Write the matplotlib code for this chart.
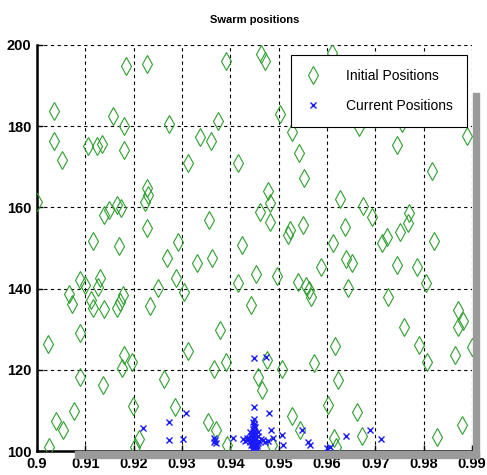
import matplotlib
matplotlib.use("Agg")
import matplotlib.pyplot as plt
from matplotlib.patches import Rectangle

# initial particle positions (green diamonds)
init_x = [0.9184, 0.9227, 0.9035, 0.9158, 0.9181, 0.9274, 0.9035, 0.9051, 0.9106, 0.9124,
          0.9134, 0.9180, 0.9227, 0.9230, 0.9224, 0.9000, 0.9139, 0.9148, 0.9166, 0.9173,
          0.9228, 0.9115, 0.9170, 0.9292, 0.9391, 0.9464, 0.9471, 0.9375, 0.9503, 0.9337,
          0.9360, 0.9312, 0.9415, 0.9527, 0.9542, 0.9553, 0.9479, 0.9482, 0.9462, 0.9482,
          0.9356, 0.9551, 0.9524, 0.9520, 0.9424, 0.9610, 0.9667, 0.9755, 0.9889, 0.9745,
          0.9817, 0.9626, 0.9675, 0.9693, 0.9638, 0.9769, 0.9767, 0.9751, 0.9724, 0.9714,
          0.9612, 0.9822, 0.9879, 0.9700, 0.9268, 0.9288, 0.9089, 0.9130, 0.9127, 0.9067,
          0.9072, 0.9099, 0.9111, 0.9115, 0.9139, 0.9166, 0.9172, 0.9177, 0.9251, 0.9234,
          0.9089, 0.9023, 0.9180, 0.9175, 0.9196, 0.9088, 0.9137, 0.9263, 0.9199, 0.9286,
          0.9077, 0.9039, 0.9053, 0.9025, 0.9203, 0.9212, 0.9331, 0.9363, 0.9305, 0.9415,
          0.9453, 0.9496, 0.9443, 0.9540, 0.9556, 0.9562, 0.9567, 0.9588, 0.9379, 0.9313,
          0.9391, 0.9367, 0.9476, 0.9508, 0.9574, 0.9458, 0.9466, 0.9353, 0.9370, 0.9393,
          0.9527, 0.9544, 0.9486, 0.9640, 0.9651, 0.9745, 0.9786, 0.9644, 0.9727, 0.9805,
          0.9872, 0.9882, 0.9872, 0.9760, 0.9617, 0.9791, 0.9900, 0.9865, 0.9807, 0.9622,
          0.9603, 0.9662, 0.9879, 0.9672, 0.9827, 0.9615, 0.9619]
init_y = [194.8, 195.3, 183.7, 182.5, 180.0, 180.5, 176.4, 171.7, 175.1, 175.1,
          175.6, 174.1, 164.8, 163.1, 161.2, 161.3, 158.1, 159.4, 160.6, 159.8,
          154.9, 151.6, 150.5, 151.5, 196.1, 197.8, 196.1, 181.3, 183.0, 177.3,
          176.4, 170.9, 170.9, 178.5, 173.5, 167.2, 163.9, 161.0, 158.9, 156.5,
          156.9, 155.7, 154.4, 153.2, 150.7, 198.0, 179.7, 180.7, 177.6, 175.4,
          169.0, 162.0, 160.3, 157.7, 155.2, 158.5, 156.1, 154.0, 152.8, 151.2,
          151.3, 151.6, 182.0, 181.8, 147.5, 142.5, 142.1, 142.5, 140.5, 138.6,
          136.1, 140.9, 137.2, 135.1, 135.0, 135.1, 136.8, 138.4, 140.1, 135.8,
          129.0, 126.4, 123.6, 120.5, 121.8, 118.3, 116.3, 117.7, 111.1, 110.8,
          109.9, 107.4, 105.2, 101.1, 101.1, 103.0, 146.2, 147.5, 139.2, 141.3,
          143.5, 143.2, 136.0, 141.7, 140.7, 139.7, 137.9, 145.4, 129.8, 124.6,
          122.0, 120.2, 122.4, 120.2, 121.6, 118.3, 115.0, 107.1, 105.2, 101.5,
          108.7, 105.2, 101.5, 147.3, 146.2, 145.8, 145.4, 140.2, 137.8, 141.3,
          134.7, 132.0, 130.6, 130.6, 125.9, 126.1, 125.7, 123.6, 122.0, 117.5,
          111.3, 109.5, 106.4, 103.8, 103.4, 103.1, 101.1]

# current particle positions (blue crosses)
curr_x = [0.9220, 0.9274, 0.9274, 0.9308, 0.9302, 0.9368, 0.9366, 0.9371, 0.9367, 0.9406,
          0.9434, 0.9450, 0.9473, 0.9450, 0.9480, 0.9484, 0.9489, 0.9508, 0.9510, 0.9548,
          0.9560, 0.9565, 0.9640, 0.9689, 0.9711, 0.9607, 0.9600,
          0.9449, 0.9452, 0.9447, 0.9450, 0.9446, 0.9453, 0.9449, 0.9445, 0.9452, 0.9448,
          0.9451, 0.9447, 0.9450, 0.9446, 0.9452, 0.9448, 0.9450, 0.9447, 0.9451, 0.9449,
          0.9450, 0.9448, 0.9450, 0.9435, 0.9438, 0.9440, 0.9442, 0.9443, 0.9457, 0.9460,
          0.9463, 0.9458, 0.9468, 0.9472, 0.9455, 0.9441, 0.9457, 0.9430, 0.9444, 0.9455,
          0.9478, 0.9427]
curr_y = [105.7, 107.2, 102.7, 109.4, 102.9, 102.7, 102.3, 102.0, 103.2, 103.3,
          103.1, 122.8, 123.2, 110.9, 109.4, 105.2, 103.1, 103.9, 101.5, 105.2,
          102.1, 101.5, 103.8, 105.2, 103.0, 101.1, 100.7,
          100.2, 100.5, 100.8, 101.1, 101.4, 101.7, 102.0, 102.3, 102.6, 102.9,
          103.2, 103.5, 103.8, 104.1, 104.4, 104.7, 105.0, 105.4, 105.8, 106.2,
          106.7, 107.2, 107.8, 102.8, 103.3, 102.2, 103.8, 101.5, 102.0, 102.5,
          103.0, 103.6, 102.7, 102.3, 101.3, 104.6, 104.8, 102.5, 100.6, 100.4,
          102.5, 103.0]

x_ticks = [0.9, 0.91, 0.92, 0.93, 0.94, 0.95, 0.96, 0.97, 0.98, 0.99]
x_labels = ["0.9", "0.91", "0.92", "0.93", "0.94", "0.95", "0.96", "0.97", "0.98", "0.99"]
y_ticks = [100, 120, 140, 160, 180, 200]

plt.rcParams["font.family"] = ["Liberation Sans", "DejaVu Sans"]

fig = plt.figure(figsize=(4.87, 4.75), dpi=100)
ax = fig.add_axes([0.076, 0.0505, 0.893, 0.855])

# grey drop shadow of the axes box
fig.patches.append(Rectangle((0.971, 0.035), 0.012, 0.77, transform=fig.transFigure,
                             color="#9a9a9a", zorder=0))
fig.patches.append(Rectangle((0.155, 0.035), 0.828, 0.016, transform=fig.transFigure,
                             color="#9a9a9a", zorder=0))

ax.plot(init_x, init_y, linestyle="none", marker="d", markersize=9,
        markerfacecolor="none", markeredgecolor="#2e9e2e", markeredgewidth=0.8,
        label="Initial Positions", zorder=3)
ax.plot(curr_x, curr_y, linestyle="none", marker="x", markersize=4,
        color="#1a1aff", markeredgewidth=1.0, label="Current Positions", zorder=4)

ax.set_xlim(0.9, 0.99)
ax.set_ylim(100, 200)
ax.set_xticks(x_ticks)
ax.set_xticklabels(x_labels)
ax.set_yticks(y_ticks)

for lbl in ax.get_xticklabels() + ax.get_yticklabels():
    lbl.set_fontweight("bold")
    lbl.set_fontsize(10.5)

ax.grid(True, color="black", linestyle=(0, (3, 3)), linewidth=0.8)
ax.set_axisbelow(True)
ax.spines["top"].set_visible(False)
ax.spines["right"].set_visible(False)
ax.spines["left"].set_linewidth(1.8)
ax.spines["bottom"].set_linewidth(1.8)
ax.tick_params(direction="in", length=4, width=1, pad=4)

ax.set_title("Swarm positions", fontsize=8, fontweight="bold", pad=16)

leg = ax.legend(loc="upper right", bbox_to_anchor=(0.989, 0.976), borderaxespad=0,
                fontsize=10, frameon=True, fancybox=False, edgecolor="black",
                framealpha=1, borderpad=1.0, labelspacing=1.2, handlelength=1.2,
                handletextpad=1.8)
leg.get_frame().set_linewidth(0.8)

fig.savefig("out.png", dpi=100)
